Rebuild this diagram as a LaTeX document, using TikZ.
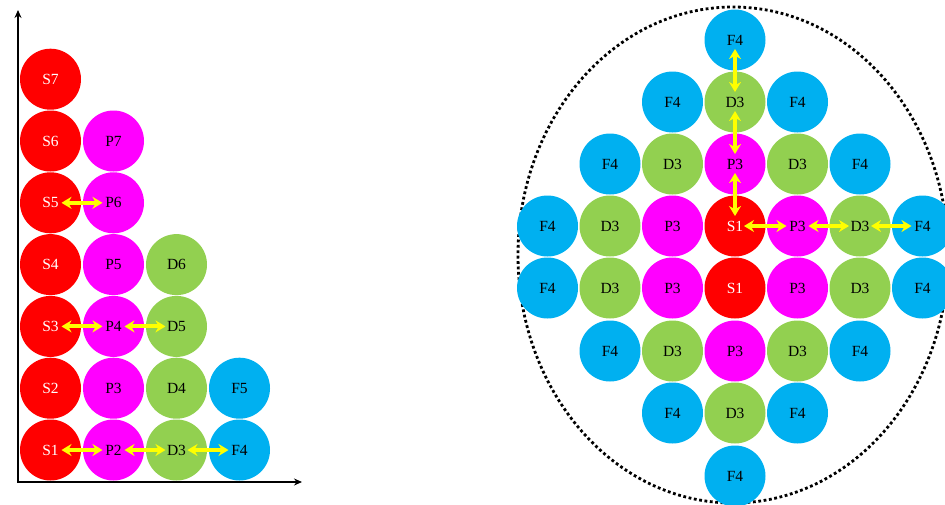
\documentclass[tikz,border=0pt]{standalone}
\usepackage{fontspec}
\setmainfont{Liberation Serif}
\usetikzlibrary{arrows.meta}
\definecolor{sred}{RGB}{255,0,0}
\definecolor{pmag}{RGB}{255,0,255}
\definecolor{dgreen}{RGB}{146,208,80}
\definecolor{fblue}{RGB}{0,176,240}
\definecolor{ylw}{RGB}{255,255,0}
\begin{document}
\begin{tikzpicture}[x=1pt,y=-1pt,
  orb/.style={circle,minimum size=61pt,inner sep=0pt,font=\fontsize{15.5}{16}\selectfont},
  sorb/.style={orb,fill=sred,text=white},
  porb/.style={orb,fill=pmag,text=black},
  dorb/.style={orb,fill=dgreen,text=black},
  forb/.style={orb,fill=fblue,text=black},
  link/.style={draw=ylw,line width=4pt,
    {Stealth[length=10pt,width=12pt]}-{Stealth[length=10pt,width=12pt]},
    shorten <=11pt, shorten >=11pt},
  vlink/.style={link,shorten <=9pt, shorten >=10pt},
  axis/.style={draw=black,line width=1.5pt,{Stealth[length=8pt,width=7pt]}-{Stealth[length=8pt,width=7pt]}},
  rim/.style={draw=black,line width=2.8pt,dash pattern=on 2.8pt off 2.6pt}]
\useasboundingbox (0,0) rectangle (945,504);
% ---------- left panel ----------
\coordinate (ytip) at (18,10);
\coordinate (orig) at (18,482);
\coordinate (xtip) at (302,482);
\draw[axis] (ytip) -- (orig) -- (xtip);
\foreach \k in {1,...,7}{
  \node[sorb] (S\k) at (50.5,{450-61.8*(\k-1)}) {S\k};}
\foreach \k in {2,...,7}{
  \node[porb] (P\k) at (113.5,{450-61.8*(\k-2)}) {P\k};}
\foreach \k in {3,...,6}{
  \node[dorb] (D\k) at (176.5,{450-61.8*(\k-3)}) {D\k};}
\foreach \k in {4,5}{
  \node[forb] (F\k) at (239.5,{450-61.8*(\k-4)}) {F\k};}
\draw[link] (S5.center) -- (P6.center);
\draw[link] (S3.center) -- (P4.center);
\draw[link] (P4.center) -- (D5.center);
\draw[link] (S1.center) -- (P2.center);
\draw[link] (P2.center) -- (D3.center);
\draw[link] (D3.center) -- (F4.center);
% ---------- right panel ----------
\draw[rim] (733,255) ellipse [x radius=215pt, y radius=248pt];
% row 1
\node[forb] (a4) at (735,40) {F4};
% row 2
\node[forb] (b3) at (672.5,102) {F4};
\node[dorb] (b4) at (735,102) {D3};
\node[forb] (b5) at (797.5,102) {F4};
% row 3
\node[forb] (c2) at (610,164) {F4};
\node[dorb] (c3) at (672.5,164) {D3};
\node[porb] (c4) at (735,164) {P3};
\node[dorb] (c5) at (797.5,164) {D3};
\node[forb] (c6) at (860,164) {F4};
% row 4
\node[forb] (d1) at (547.5,226) {F4};
\node[dorb] (d2) at (610,226) {D3};
\node[porb] (d3) at (672.5,226) {P3};
\node[sorb] (d4) at (735,226) {S1};
\node[porb] (d5) at (797.5,226) {P3};
\node[dorb] (d6) at (860,226) {D3};
\node[forb] (d7) at (922.5,226) {F4};
% row 5
\node[forb] (e1) at (547.5,288) {F4};
\node[dorb] (e2) at (610,288) {D3};
\node[porb] (e3) at (672.5,288) {P3};
\node[sorb] (e4) at (735,288) {S1};
\node[porb] (e5) at (797.5,288) {P3};
\node[dorb] (e6) at (860,288) {D3};
\node[forb] (e7) at (922.5,288) {F4};
% row 6
\node[forb] (f2) at (610,351) {F4};
\node[dorb] (f3) at (672.5,351) {D3};
\node[porb] (f4) at (735,351) {P3};
\node[dorb] (f5) at (797.5,351) {D3};
\node[forb] (f6) at (860,351) {F4};
% row 7
\node[forb] (g3) at (672.5,413) {F4};
\node[dorb] (g4) at (735,413) {D3};
\node[forb] (g5) at (797.5,413) {F4};
% row 8
\node[forb] (h4) at (735,476) {F4};
% links
\draw[vlink] (a4.center) -- (b4.center);
\draw[vlink] (b4.center) -- (c4.center);
\draw[vlink] (c4.center) -- (d4.center);
\draw[link,shorten <=9pt] (d4.center) -- (d5.center);
\draw[link] (d5.center) -- (d6.center);
\draw[link] (d6.center) -- (d7.center);
\end{tikzpicture}
\end{document}
